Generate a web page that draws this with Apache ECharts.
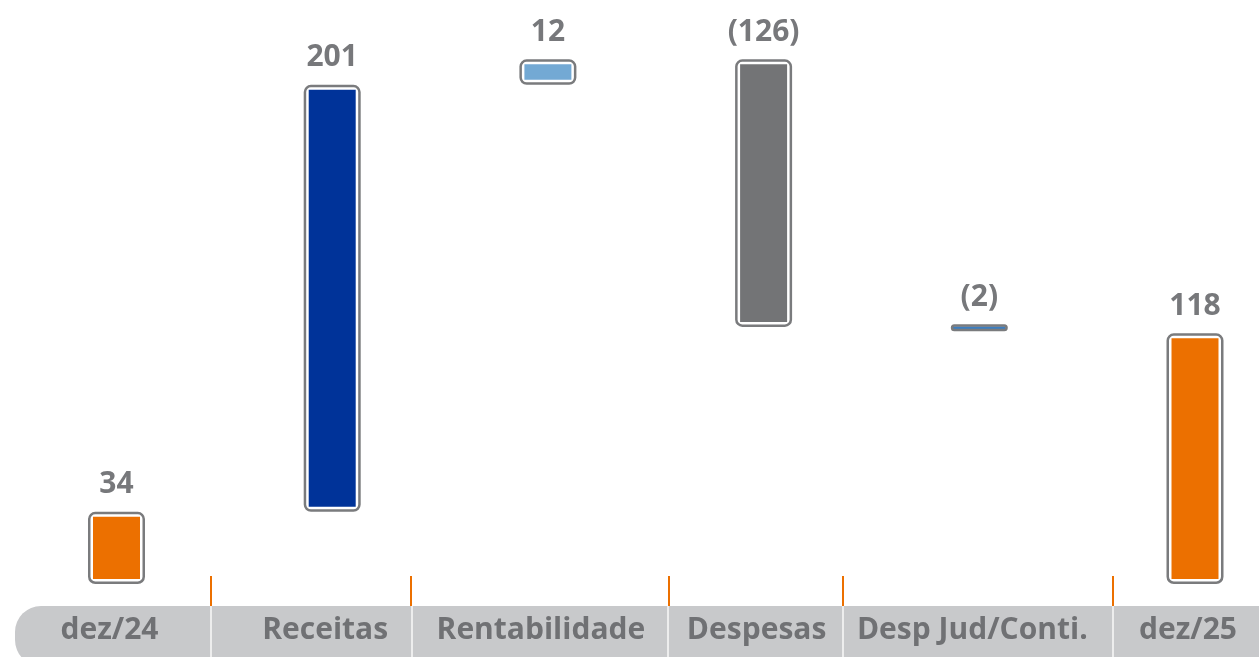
<!DOCTYPE html>
<head>
    <meta charset="utf-8"/>
    <style>
        html, body { margin: 0; padding: 0; background: #fff; }
    </style>
</head>
<body>
<div id="main" style="width:1259px;height:657px;"></div>
<script src="https://cdn.jsdelivr.net/npm/echarts@6/dist/echarts.min.js"></script>
<script type="text/javascript">
// categorias e valores (R$ mi)
var categories = ['dez/24', 'Receitas', 'Rentabilidade', 'Despesas', 'Desp Jud/Conti.', 'dez/25'];
var values = [34, 201, 12, -126, -2, 118];
var isTotal = [true, false, false, false, false, true];

// cores de cada barra
var barColors = ['#EC7000', '#003399', '#73A9D4', '#737476', '#3B7EC1', '#EC7000'];

// monta base invisivel + altura visivel (cascata)
var bases = [], heights = [];
var running = 0;
for (var i = 0; i < values.length; i++) {
    var v = values[i];
    if (isTotal[i]) {
        bases.push(0);
        heights.push(v);
        running = v;
    } else if (v >= 0) {
        bases.push(running);
        heights.push(v);
        running += v;
    } else {
        bases.push(running + v);
        heights.push(-v);
        running += v;
    }
}

function fmt(v) {
    return v < 0 ? '(' + (-v) + ')' : String(v);
}

// borda branca interna (o echarts desenha a borda para dentro da barra)
var fillData = heights.map(function (h, i) {
    return {
        value: h,
        itemStyle: {
            color: barColors[i],
            borderColor: '#fff',
            borderWidth: h < 5 ? 2 : 5
        }
    };
});

var frameData = heights.map(function (h, i) {
    return { value: h, labelText: fmt(values[i]) };
});

var myChart = echarts.init(document.getElementById('main'));

var options = {
    animation: false,
    grid: { left: 116.5, top: 53, right: 64, bottom: 73 },
    xAxis: {
        type: 'category',
        data: categories,
        boundaryGap: false,
        z: 10,
        axisLine: { show: false },
        axisTick: { show: false },
        splitLine: { show: false },
        axisLabel: {
            margin: 31,
            interval: 0,
            fontFamily: 'Open Sans',
            fontWeight: 'bold',
            fontSize: 30,
            lineHeight: 30,
            padding: [0, 14, 0, 0],
            color: '#707174'
        }
    },
    yAxis: {
        type: 'value',
        min: 0,
        max: 250,
        show: false
    },
    graphic: [
        { type: 'rect', z: -10, shape: { x: 15, y: 606, width: 1300, height: 60, r: [26, 0, 0, 26] }, style: { fill: '#C8C9CB' } },
        { type: 'line', z: -9, shape: { x1: 211, y1: 606, x2: 211, y2: 657 }, style: { stroke: '#EDEDED', lineWidth: 2 } },
        { type: 'line', z: -9, shape: { x1: 412, y1: 606, x2: 412, y2: 657 }, style: { stroke: '#EDEDED', lineWidth: 2 } },
        { type: 'line', z: -9, shape: { x1: 668, y1: 606, x2: 668, y2: 657 }, style: { stroke: '#EDEDED', lineWidth: 2 } },
        { type: 'line', z: -9, shape: { x1: 843, y1: 606, x2: 843, y2: 657 }, style: { stroke: '#EDEDED', lineWidth: 2 } },
        { type: 'line', z: -9, shape: { x1: 1113, y1: 606, x2: 1113, y2: 657 }, style: { stroke: '#EDEDED', lineWidth: 2 } },
        { type: 'line', z: -9, shape: { x1: 211, y1: 576, x2: 211, y2: 606 }, style: { stroke: '#EC7000', lineWidth: 2 } },
        { type: 'line', z: -9, shape: { x1: 411, y1: 576, x2: 411, y2: 606 }, style: { stroke: '#EC7000', lineWidth: 2 } },
        { type: 'line', z: -9, shape: { x1: 669, y1: 576, x2: 669, y2: 606 }, style: { stroke: '#EC7000', lineWidth: 2 } },
        { type: 'line', z: -9, shape: { x1: 843, y1: 576, x2: 843, y2: 606 }, style: { stroke: '#EC7000', lineWidth: 2 } },
        { type: 'line', z: -9, shape: { x1: 1113, y1: 576, x2: 1113, y2: 606 }, style: { stroke: '#EC7000', lineWidth: 2 } }
    ],
    series: [
        {
            name: 'base',
            type: 'bar',
            stack: 'fill',
            barWidth: 57,
            barGap: '-100%',
            clip: false,
            silent: true,
            itemStyle: { color: 'transparent' },
            data: bases
        },
        {
            name: 'valor',
            type: 'bar',
            stack: 'fill',
            barWidth: 57,
            barGap: '-100%',
            barMinHeight: 7,
            clip: false,
            data: fillData
        },
        {
            name: 'base2',
            type: 'bar',
            stack: 'frame',
            barWidth: 57,
            barGap: '-100%',
            clip: false,
            silent: true,
            itemStyle: { color: 'transparent' },
            data: bases
        },
        {
            name: 'moldura',
            type: 'bar',
            stack: 'frame',
            barWidth: 57,
            barGap: '-100%',
            barMinHeight: 7,
            clip: false,
            itemStyle: {
                color: 'transparent',
                borderColor: '#7A7B7D',
                borderWidth: 2.5,
                borderRadius: 6
            },
            label: {
                show: true,
                position: 'top',
                distance: 12,
                fontFamily: 'Open Sans',
                fontWeight: 'bold',
                fontSize: 30,
                lineHeight: 30,
                color: '#77787B',
                formatter: function (p) { return p.data.labelText; }
            },
            data: frameData
        }
    ]
};

myChart.setOption(options);
</script>
</body>
